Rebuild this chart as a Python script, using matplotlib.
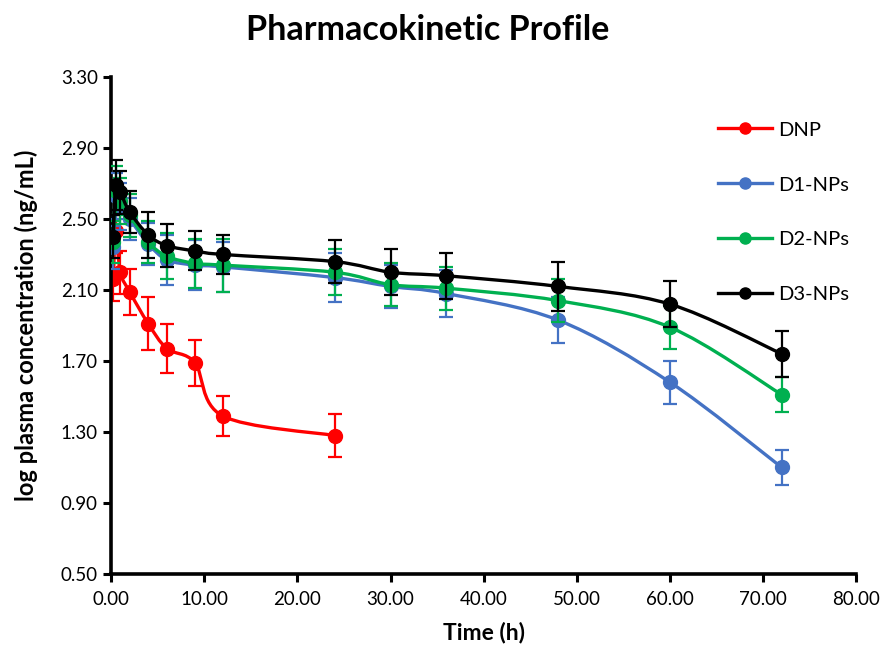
import numpy as np
import matplotlib
matplotlib.use("Agg")
import matplotlib.pyplot as plt
from matplotlib.path import Path
from matplotlib.patches import PathPatch
from matplotlib.lines import Line2D

# ---------------- data ----------------
t_dnp = [0.25, 0.5, 1, 2, 4, 6, 9, 12, 24]
dnp = [2.16, 2.43, 2.20, 2.09, 1.91, 1.77, 1.69, 1.39, 1.28]
dnp_err = [0.12, 0.12, 0.12, 0.13, 0.15, 0.14, 0.13, 0.11, 0.12]

t_np = [0.25, 0.5, 1, 2, 4, 6, 9, 12, 24, 30, 36, 48, 60, 72]
d1 = [2.34, 2.63, 2.57, 2.50, 2.36, 2.27, 2.24, 2.23, 2.17, 2.12, 2.08, 1.93, 1.58, 1.10]
d1_err = [0.12, 0.13, 0.13, 0.12, 0.12, 0.14, 0.14, 0.14, 0.14, 0.12, 0.13, 0.13, 0.12, 0.10]
d2 = [2.37, 2.66, 2.60, 2.52, 2.37, 2.29, 2.25, 2.24, 2.20, 2.13, 2.11, 2.04, 1.89, 1.51]
d2_err = [0.12, 0.14, 0.13, 0.12, 0.12, 0.13, 0.14, 0.15, 0.13, 0.12, 0.12, 0.12, 0.12, 0.10]
d3 = [2.40, 2.69, 2.65, 2.54, 2.41, 2.35, 2.32, 2.30, 2.26, 2.20, 2.18, 2.12, 2.02, 1.74]
d3_err = [0.12, 0.14, 0.12, 0.12, 0.13, 0.12, 0.11, 0.11, 0.12, 0.13, 0.13, 0.14, 0.13, 0.13]

labels = ["DNP", "D1-NPs", "D2-NPs", "D3-NPs"]
colors = ["#FF0000", "#4472C4", "#00B050", "#000000"]

x_ticks = [0, 10, 20, 30, 40, 50, 60, 70, 80]
y_ticks = [0.50, 0.90, 1.30, 1.70, 2.10, 2.50, 2.90, 3.30]

# ---------------- figure ----------------
plt.rcParams['font.family'] = ['Lato', 'DejaVu Sans']
fig = plt.figure(figsize=(8.81, 6.58), dpi=100)
ax = fig.add_axes([0.126, 0.1277, 0.846, 0.7553])
ax.set_xlim(0, 80)
ax.set_ylim(0.5, 3.3)


def smooth_path(ax, xs, ys):
    """Excel-like smoothed line: cubic Bezier in display space."""
    pts = ax.transData.transform(np.column_stack([xs, ys]))
    n = len(pts)
    verts = [pts[0]]
    codes = [Path.MOVETO]
    for i in range(n - 1):
        p0 = pts[i - 1] if i > 0 else pts[i]
        p1 = pts[i]
        p2 = pts[i + 1]
        p3 = pts[i + 2] if i + 2 < n else pts[i + 1]
        c1 = p1 + (p2 - p0) / 6.0
        c2 = p2 - (p3 - p1) / 6.0
        verts += [c1, c2, p2]
        codes += [Path.CURVE4] * 3
    verts = ax.transData.inverted().transform(np.array(verts))
    return Path(verts, codes)


series = [(t_dnp, dnp, dnp_err), (t_np, d1, d1_err), (t_np, d2, d2_err), (t_np, d3, d3_err)]
handles = []
for k, ((xs, ys, es), c, lab) in enumerate(zip(series, colors, labels)):
    z = 2 + k
    ax.errorbar(xs, ys, yerr=es, fmt='none', ecolor=c, elinewidth=1.6,
                capsize=5, capthick=1.6, zorder=z)
    p = smooth_path(ax, xs, ys)
    ax.add_patch(PathPatch(p, facecolor='none', edgecolor=c, lw=2.4, zorder=z))
    ax.plot(xs, ys, linestyle='none', marker='o', markersize=10, color=c, zorder=z + 0.5)
    handles.append(Line2D([0], [0], color=c, lw=2.4, marker='o', markersize=8))

ax.set_xticks(x_ticks)
ax.set_yticks(y_ticks)
ax.set_xticklabels([f"{v:.2f}" for v in x_ticks])
ax.set_yticklabels([f"{v:.2f}" for v in y_ticks])
ax.tick_params(axis='both', direction='out', length=6, width=2.2, labelsize=13.5, colors='black')
ax.tick_params(axis='x', pad=6)

for s in ['top', 'right']:
    ax.spines[s].set_visible(False)
for s in ['left', 'bottom']:
    ax.spines[s].set_linewidth(2.6)
    ax.spines[s].set_color('black')

ax.set_xlabel("Time (h)", fontsize=16.5, fontweight='bold', labelpad=10)
ax.set_ylabel("log plasma concentration (ng/mL)", fontsize=17, fontweight='bold', labelpad=16)
fig.suptitle("Pharmacokinetic Profile", fontsize=24.5, fontweight='bold', x=0.485, y=0.978)

leg = ax.legend(handles, labels, loc='upper left', bbox_to_anchor=(0.79, 0.947),
                frameon=False, fontsize=14.5, handlelength=2.7, labelspacing=1.88,
                handletextpad=0.3)

fig.savefig("out.png", dpi=100)
